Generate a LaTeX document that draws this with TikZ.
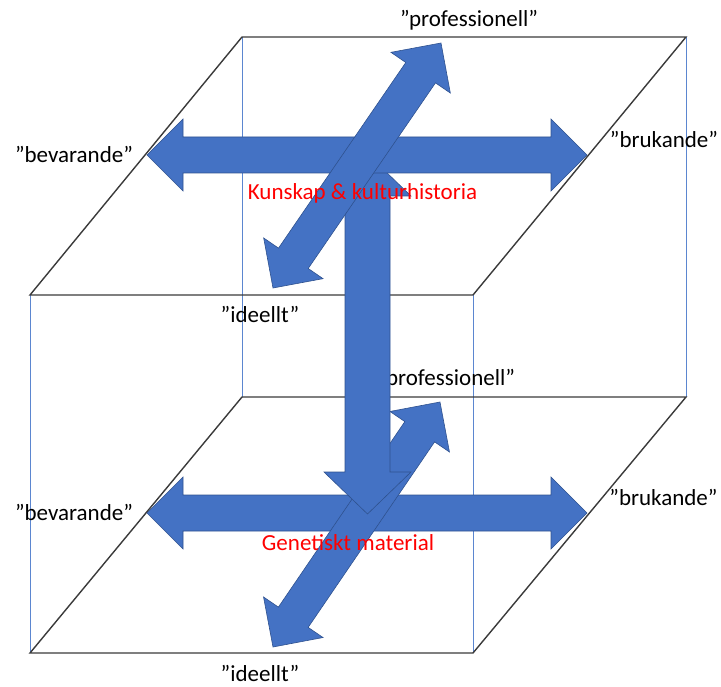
\documentclass[tikz,border=0pt]{standalone}
\usepackage{fontspec}
\setmainfont{Carlito}
\usetikzlibrary{calc}
\definecolor{arrowblue}{HTML}{4472C4}
\definecolor{arrowedge}{HTML}{2F528F}
\definecolor{edgegray}{HTML}{3A3A3A}
\definecolor{thinblue}{HTML}{5B86D0}
% #1 tip A, #2 tip B, #3 shaft half width, #4 head half width, #5 head length
\newcommand\dblarrow[5]{%
  \coordinate (#1h) at ($(#1)!#5!(#2)$);
  \coordinate (#2h) at ($(#2)!#5!(#1)$);
  \filldraw[arrowshape] (#1) -- ($(#1h)!#4!90:(#2)$) -- ($(#1h)!#3!90:(#2)$)
    -- ($(#2h)!#3!-90:(#1)$) -- ($(#2h)!#4!-90:(#1)$) -- (#2)
    -- ($(#2h)!#4!90:(#1)$) -- ($(#2h)!#3!90:(#1)$)
    -- ($(#1h)!#3!-90:(#2)$) -- ($(#1h)!#4!-90:(#2)$) -- cycle;}
\begin{document}
\begin{tikzpicture}[x=1pt,y=-1pt,
  arrowshape/.style={fill=arrowblue,draw=arrowedge,line width=0.6pt,line join=miter},
  planeedge/.style={draw=edgegray,line width=1.4pt},
  depthedge/.style={draw=thinblue,line width=1pt},
  lbl/.style={font=\fontsize{23}{27}\selectfont,anchor=base,inner sep=0pt,text=black},
  redlbl/.style={lbl,text=red}]
\useasboundingbox (0,0) rectangle (721,687);
% cube corners
\coordinate (tbl) at (242,37);  \coordinate (tbr) at (686,37);
\coordinate (tfr) at (473,295); \coordinate (tfl) at (30,295);
\coordinate (bbl) at (242,397); \coordinate (bbr) at (686,397);
\coordinate (bfr) at (473,653); \coordinate (bfl) at (30,653);
% vertical thin blue edges
\draw[depthedge] (tfl) -- (bfl);
\draw[depthedge] (tfr) -- (bfr);
\draw[depthedge] (tbl) -- (bbl);
\draw[depthedge] (tbr) -- (bbr);
% planes
\draw[planeedge] (tbl) -- (tbr) -- (tfr) -- (tfl) -- cycle;
\draw[planeedge] (bbl) -- (bbr) -- (bfr) -- (bfl) -- cycle;
% black labels
\node[lbl] (tprof) at (469,27) {”professionell”};
\node[lbl] (tbev) at (74,163) {”bevarande”};
\node[lbl] (tbru) at (664,148) {”brukande”};
\node[lbl] (tide) at (260,323) {”ideellt”};
\node[lbl] (bprof) at (446,385) {”professionell”};
\node[lbl] (bbev) at (74,520) {”bevarande”};
\node[lbl] (bbru) at (663.5,505.5) {”brukande”};
\node[lbl] (bide) at (260,681) {”ideellt”};
% arrow tips
\coordinate (bhl) at (147,513); \coordinate (bhr) at (587,513);
\coordinate (bdl) at (273,647); \coordinate (bdr) at (440,402);
\coordinate (vt) at (367.5,154); \coordinate (vb) at (367.5,514);
\coordinate (thl) at (147,155); \coordinate (thr) at (587,155);
\coordinate (tdl) at (273,288); \coordinate (tdr) at (441,43);
% arrows (back to front)
\dblarrow{bhl}{bhr}{18pt}{36pt}{36pt}
\dblarrow{bdl}{bdr}{18pt}{36pt}{36pt}
\dblarrow{vt}{vb}{22.5pt}{43.5pt}{42pt}
\dblarrow{thl}{thr}{18pt}{36pt}{36pt}
\dblarrow{tdl}{tdr}{18pt}{36pt}{36pt}
% red labels
\node[redlbl] (kunskap) at (362.5,199.5) {Kunskap \& kulturhistoria};
\node[redlbl] (genetik) at (348,550) {Genetiskt material};
\end{tikzpicture}
\end{document}
